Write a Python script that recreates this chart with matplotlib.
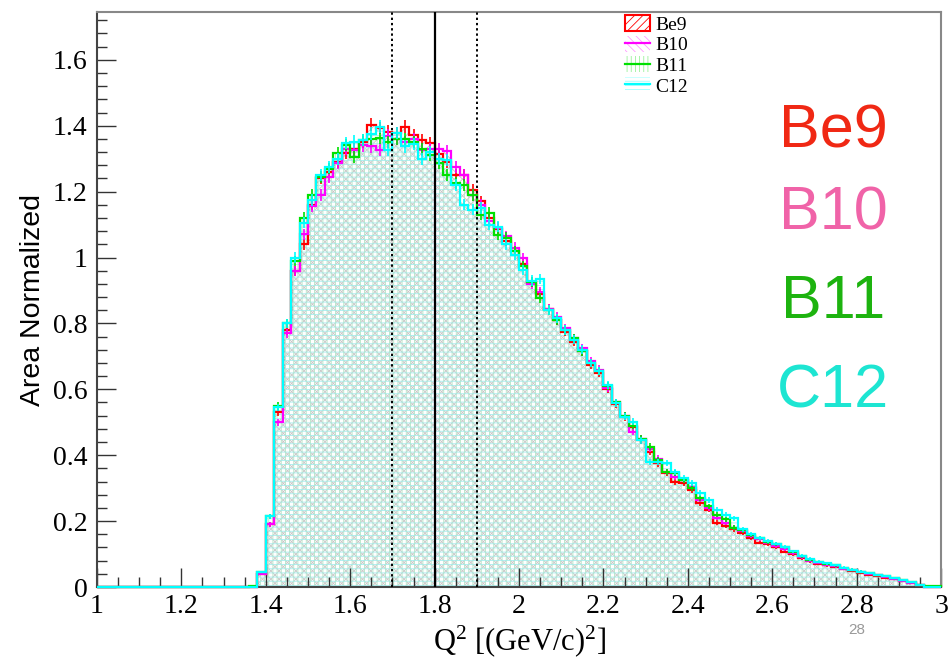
import numpy as np
import matplotlib
matplotlib.use("Agg")
import matplotlib.pyplot as plt
from matplotlib.patches import Patch
from matplotlib.lines import Line2D
from matplotlib.ticker import MultipleLocator, FuncFormatter

# 100 bins of 0.02 from 1 to 3, the first 18 bins are empty
edges = np.linspace(1.0, 3.0, 101)
empty = [0.0] * 18

be9 = empty + [0.0, 0.04, 0.19, 0.53, 0.78, 0.96, 1.04, 1.16, 1.24, 1.26,
               1.29, 1.318, 1.33, 1.35, 1.403, 1.393, 1.382, 1.378, 1.397, 1.372,
               1.357, 1.347, 1.315, 1.29, 1.25, 1.25, 1.205, 1.17, 1.12, 1.085,
               1.05, 1.02, 0.98, 0.925, 0.89, 0.845, 0.81, 0.775, 0.745, 0.715,
               0.675, 0.65, 0.60, 0.555, 0.515, 0.485, 0.445, 0.41, 0.375, 0.345,
               0.32, 0.315, 0.295, 0.255, 0.235, 0.195, 0.185, 0.175, 0.165, 0.15,
               0.135, 0.13, 0.12, 0.107, 0.10, 0.088, 0.078, 0.071, 0.066, 0.061,
               0.054, 0.049, 0.043, 0.038, 0.033, 0.028, 0.024, 0.018, 0.012, 0.005,
               0.001, 0.0]
b10 = empty + [0.0, 0.04, 0.19, 0.50, 0.77, 0.96, 1.07, 1.155, 1.19, 1.245,
               1.287, 1.33, 1.327, 1.34, 1.337, 1.327, 1.37, 1.36, 1.35, 1.36,
               1.327, 1.33, 1.33, 1.322, 1.276, 1.25, 1.19, 1.16, 1.11, 1.09,
               1.065, 1.03, 0.998, 0.92, 0.896, 0.845, 0.82, 0.785, 0.755, 0.725,
               0.685, 0.66, 0.605, 0.56, 0.52, 0.471, 0.45, 0.42, 0.39, 0.35,
               0.335, 0.325, 0.305, 0.265, 0.24, 0.21, 0.195, 0.18, 0.17, 0.155,
               0.145, 0.135, 0.125, 0.115, 0.103, 0.09, 0.08, 0.073, 0.068, 0.063,
               0.056, 0.051, 0.045, 0.04, 0.035, 0.03, 0.025, 0.019, 0.012, 0.005,
               0.001, 0.0]
b11 = empty + [0.002, 0.045, 0.215, 0.55, 0.80, 0.99, 1.12, 1.19, 1.245, 1.27,
               1.318, 1.342, 1.306, 1.357, 1.36, 1.363, 1.35, 1.36, 1.36, 1.35,
               1.33, 1.31, 1.287, 1.25, 1.226, 1.22, 1.19, 1.13, 1.135, 1.069,
               1.06, 1.02, 0.975, 0.925, 0.877, 0.84, 0.81, 0.78, 0.755, 0.715,
               0.68, 0.655, 0.61, 0.56, 0.52, 0.49, 0.45, 0.426, 0.385, 0.35,
               0.345, 0.325, 0.30, 0.27, 0.245, 0.22, 0.205, 0.18, 0.172, 0.157,
               0.148, 0.137, 0.13, 0.12, 0.107, 0.093, 0.083, 0.076, 0.071, 0.066,
               0.058, 0.053, 0.047, 0.042, 0.037, 0.032, 0.027, 0.021, 0.014, 0.007,
               0.004, 0.003]
c12 = empty + [0.0, 0.045, 0.215, 0.545, 0.80, 1.0, 1.105, 1.175, 1.25, 1.275,
               1.30, 1.347, 1.352, 1.357, 1.376, 1.397, 1.327, 1.378, 1.337, 1.345,
               1.30, 1.32, 1.30, 1.296, 1.22, 1.16, 1.145, 1.15, 1.10, 1.094,
               1.04, 1.008, 0.962, 0.93, 0.935, 0.84, 0.815, 0.78, 0.75, 0.72,
               0.68, 0.655, 0.613, 0.558, 0.517, 0.502, 0.446, 0.38, 0.38, 0.376,
               0.35, 0.33, 0.315, 0.285, 0.264, 0.234, 0.219, 0.209, 0.175, 0.16,
               0.15, 0.14, 0.132, 0.122, 0.108, 0.095, 0.085, 0.077, 0.072, 0.067,
               0.059, 0.053, 0.047, 0.042, 0.037, 0.032, 0.027, 0.021, 0.014, 0.006,
               0.0, 0.0]

names = ["Be9", "B10", "B11", "C12"]
series = [be9, b10, b11, c12]
line_colors = ["#ff0000", "#ff00ff", "#00e000", "#00ffff"]
hatch_colors = ["#c4c4c4", "#c4c4c4", "#b4e4c4", "#a4ecec"]
hatches = ["////", "\\\\\\\\", "||||", "----"]
text_colors = ["#f02814", "#f063a8", "#1db30f", "#1de5d2"]
cut_lines = [1.7, 1.8, 1.9]

plt.rcParams["hatch.linewidth"] = 0.6
plt.rcParams["mathtext.fontset"] = "custom"
plt.rcParams["mathtext.rm"] = "Liberation Serif"
plt.rcParams["mathtext.it"] = "Liberation Serif:italic"

fig = plt.figure(figsize=(9.49, 6.67), dpi=100)
ax = fig.add_axes([0.1022, 0.1199, 0.8894, 0.8621])

centers = 0.5 * (edges[:-1] + edges[1:])
for vals, lc, hc, ht in zip(series, line_colors, hatch_colors, hatches):
    vals = np.array(vals)
    ax.stairs(vals, edges, fill=True, facecolor="none", edgecolor=hc,
              hatch=ht, linewidth=0, zorder=1)
for vals, lc in zip(series, line_colors):
    vals = np.array(vals)
    ax.stairs(vals, edges, color=lc, linewidth=1.6, zorder=3, clip_on=False)
    m = vals > 0
    ax.errorbar(centers[m], vals[m], yerr=0.016 * np.sqrt(vals[m]), fmt="none",
                ecolor=lc, elinewidth=1.2, zorder=3)

for q in cut_lines:
    ls = "-" if q == 1.8 else (0, (1.2, 1.5))
    ax.axvline(q, color="black", linestyle=ls, linewidth=1.6 if q == 1.8 else 1.4, zorder=4)

ax.set_xlim(1.0, 3.0)
ax.set_ylim(0, 1.745)
ax.xaxis.set_major_locator(MultipleLocator(0.2))
ax.xaxis.set_minor_locator(MultipleLocator(0.05))
ax.yaxis.set_major_locator(MultipleLocator(0.2))
ax.yaxis.set_minor_locator(MultipleLocator(0.04))
fmt = FuncFormatter(lambda v, p: "%g" % round(v, 3))
ax.xaxis.set_major_formatter(fmt)
ax.yaxis.set_major_formatter(fmt)
ax.tick_params(which="both", direction="in", top=False, right=False,
               color="#333333", width=1.0)
ax.tick_params(which="major", length=14, labelsize=20)
ax.tick_params(axis="y", which="major", pad=7)
ax.tick_params(axis="x", which="major", pad=5)
ax.tick_params(which="minor", length=7)
for lab in ax.get_xticklabels() + ax.get_yticklabels():
    lab.set_fontfamily("Liberation Serif")
for s in ax.spines.values():
    s.set_color("#888888")
    s.set_linewidth(1.5)
ax.spines["left"].set_color("#444444")
ax.spines["bottom"].set_color("#444444")

ax.set_xlabel(r"Q$^{2}$ [(GeV/c)$^{2}$]", fontfamily="Liberation Serif", fontsize=22,
              labelpad=3)
ax.set_ylabel("Area Normalized", fontfamily="Liberation Sans", fontsize=20.5, labelpad=5)

handles = [Patch(facecolor="none", edgecolor="#ff0000", hatch="////", linewidth=1.5)]
for lc, hc, ht in zip(line_colors[1:], hatch_colors[1:], hatches[1:]):
    handles.append((Patch(facecolor="none", edgecolor=lc, hatch=ht, linewidth=0, alpha=0.4),
                    Line2D([], [], color=lc, linewidth=1.6)))
ax.legend(handles, names, loc="upper left", bbox_to_anchor=(0.614, 1.012),
          frameon=False, prop={"family": "Liberation Serif", "size": 14},
          handlelength=1.3, handleheight=0.9, labelspacing=0.1, borderpad=0.0,
          handletextpad=0.25)

ys = [0.802, 0.679, 0.546, 0.412]
for name, tc, y in zip(names, text_colors, ys):
    fig.text(0.878, y, name, color=tc, fontsize=44, fontfamily="Liberation Sans",
             ha="center", va="center")

fig.text(0.903, 0.055, "28", color="#999999", fontsize=11, fontfamily="Liberation Sans",
         ha="center", va="center")

fig.savefig("out.png", dpi=100)
